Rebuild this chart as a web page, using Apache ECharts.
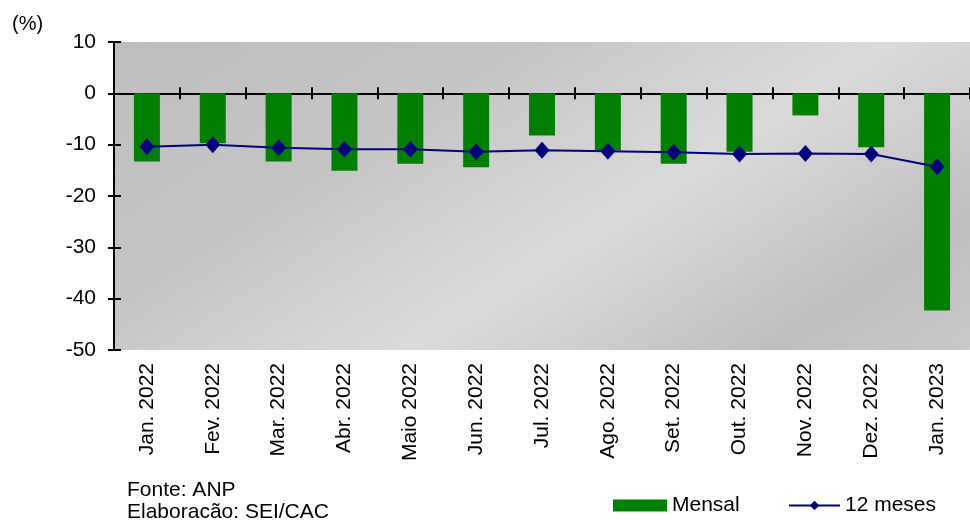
<!DOCTYPE html>
<html><head><meta charset="utf-8">
<script src="https://cdn.jsdelivr.net/npm/echarts@6/dist/echarts.min.js"></script>
<style>html,body{margin:0;padding:0;background:#fff}#c{width:970px;height:520px}</style>
</head><body><div id="c"></div>
<script>
const categories = ['Jan. 2022','Fev. 2022','Mar. 2022','Abr. 2022','Maio 2022','Jun. 2022','Jul. 2022','Ago. 2022','Set. 2022','Out. 2022','Nov. 2022','Dez. 2022','Jan. 2023'];
const mensal = [-13.3, -9.7, -13.3, -15.1, -13.7, -14.4, -8.2, -11.1, -13.7, -11.4, -4.3, -10.5, -42.3];
const dozeMeses = [-10.4, -10.0, -10.6, -10.9, -10.9, -11.4, -11.1, -11.3, -11.5, -11.8, -11.7, -11.8, -14.3];
const yTicks = {min: -50, max: 10, interval: 10};

const FONT = "'Liberation Sans', Arial, sans-serif";
const chart = echarts.init(document.getElementById('c'));
const baseX = {type:'category', data:categories, gridIndex:0, position:'bottom', boundaryGap:true};
chart.setOption({
  animation:false,
  grid:{left:114, right:0, top:42, bottom:170, show:true, borderWidth:0,
    backgroundColor:{type:'linear', x:0, y:0, x2:0.455, y2:1.97, colorStops:[
      {offset:0,color:'#bebebe'},{offset:0.3,color:'#c4c4c4'},{offset:0.58,color:'#dadada'},{offset:0.85,color:'#bfbfbf'},{offset:1,color:'#c9c9c9'}]}},
  graphic:[
    {type:'text', left:12, top:14, style:{text:'(%)', font:'20px '+FONT, fill:'#000'}},
    {type:'text', left:127, top:480, style:{text:'Fonte: ANP', font:'21px '+FONT, fill:'#000'}},
    {type:'text', left:127, top:502, style:{text:'Elaboracão: SEI/CAC', font:'21px '+FONT, fill:'#000'}}
  ],
  legend:[
    {data:[{name:'Mensal', icon:'rect'}], left:613, top:495, padding:0, itemWidth:54, itemHeight:12,
      textStyle:{fontFamily:FONT, fontSize:21, color:'#000'}},
    {data:[{name:'12 meses'}], left:788, top:495, padding:0, itemWidth:51, itemHeight:12,
      textStyle:{fontFamily:FONT, fontSize:21, color:'#000'}}
  ],
  xAxis:[
    Object.assign({}, baseX, {axisLine:{show:false, onZero:false}, axisTick:{show:false},
      axisLabel:{rotate:90, margin:13, fontFamily:FONT, fontSize:21, color:'#000', interval:0}}),
    Object.assign({}, baseX, {axisLine:{show:true, onZero:true, onZeroAxisIndex:0, lineStyle:{color:'#000', width:2}},
      axisTick:{show:true, inside:false, interval:0, length:6, lineStyle:{color:'#000', width:2}}, axisLabel:{show:false, interval:0}}),
    Object.assign({}, baseX, {axisLine:{show:false, onZero:true, onZeroAxisIndex:0},
      axisTick:{show:true, inside:true, interval:0, length:6, lineStyle:{color:'#000', width:2}}, axisLabel:{show:false, interval:0}})
  ],
  yAxis:[
    {type:'value', position:'left', min:yTicks.min, max:yTicks.max, interval:yTicks.interval, splitLine:{show:false},
      axisLine:{show:true, lineStyle:{color:'#000', width:2}}, axisTick:{show:true, length:6, lineStyle:{color:'#000', width:2}},
      axisLabel:{margin:18, fontFamily:FONT, fontSize:21, color:'#000'}},
    {type:'value', position:'left', min:yTicks.min, max:yTicks.max, interval:yTicks.interval, splitLine:{show:false},
      axisLine:{show:false}, axisTick:{show:true, inside:true, length:7, lineStyle:{color:'#000', width:2}},
      axisLabel:{show:false}}
  ],
  series:[
    {name:'Mensal', type:'bar', data:mensal, barWidth:26, itemStyle:{color:'#008000'}, xAxisIndex:0, yAxisIndex:0, z:1},
    {name:'12 meses', type:'line', data:dozeMeses, xAxisIndex:0, yAxisIndex:0, symbol:'diamond', symbolSize:[15,17],
      itemStyle:{color:'#000080'}, lineStyle:{color:'#000080', width:2}, smooth:false, z:3}
  ]
});
</script></body></html>
